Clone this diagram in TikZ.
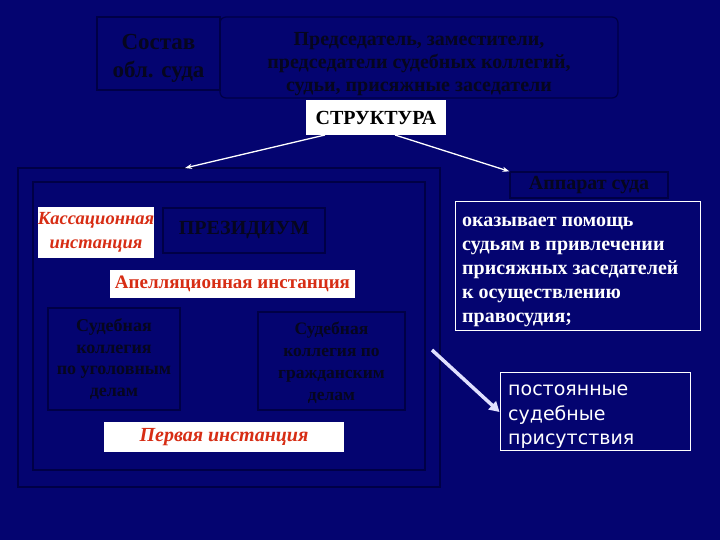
\documentclass[tikz,border=0pt]{standalone}
\usepackage{fontspec}
\setmainfont{Liberation Serif}
\newfontfamily\vsans{DejaVu Sans}
\usetikzlibrary{arrows.meta}
\definecolor{bgnavy}{RGB}{4,4,112}
\definecolor{darkline}{RGB}{0,0,70}
\definecolor{darktext}{RGB}{6,6,30}
\definecolor{redtext}{RGB}{215,45,20}
\tikzset{
  darkbox/.style={draw=darkline, line width=1.2pt, text=darktext, align=center, inner sep=0pt, font=\bfseries},
  darktxt/.style={text=darktext, align=center, inner sep=0pt},
  whitebox/.style={fill=white, draw=none, align=center, inner sep=0pt},
  framebox/.style={draw=darkline, line width=1.5pt, inner sep=0pt},
  wframe/.style={draw=white, line width=1pt, text=white, inner sep=0pt},
  arr/.style={draw=white, line width=1.3pt, -{Stealth[length=7pt,width=5pt]}},
  bigarr/.style={draw=white!88!blue, line width=3.5pt, -{Triangle[length=10pt,width=11pt]}}
}
\begin{document}
\begin{tikzpicture}[x=1pt,y=-1pt]
\fill[bgnavy] (0,0) rectangle (720,540);
\useasboundingbox (0,0) rectangle (720,540);

% top row
\node[darkbox, minimum width=123, minimum height=73] (sostav) at (158.5,53.5) {};
\node[darktxt, font=\bfseries\fontsize{23}{28}\selectfont] (sostavtext) at (158.5,58) {Состав\\обл. суда};
\node[darkbox, rounded corners=6pt, minimum width=398, minimum height=81] (pred) at (419,57.5) {};
\node[darktxt, font=\bfseries\fontsize{20}{23}\selectfont] (predtext) at (419,64) {Председатель, заместители,\\председатели судебных коллегий,\\судьи, присяжные заседатели};

\node[whitebox, minimum width=140, minimum height=35, font=\bfseries\fontsize{20}{22}\selectfont] (struct) at (376,117.5) {СТРУКТУРА};

% frames
\node[framebox, minimum width=422, minimum height=319] (outer) at (229,327.5) {};
\node[framebox, minimum width=392, minimum height=288] (inner) at (229,326) {};

\coordinate (s1) at (325,135);
\coordinate (f1) at (185,168);
\coordinate (s2) at (395,135);
\draw[arr] (s1) -- (f1);

% right column
\node[darkbox, minimum width=158, minimum height=26, font=\bfseries\fontsize{20}{22}\selectfont] (apparat) at (589,185) {Аппарат суда};
\draw[arr] (s2) -- (apparat.north west);

\node[wframe, minimum width=245, minimum height=128] (help) at (577.5,266) {};
\node[text=white, align=left, anchor=north west, inner sep=0pt, font=\bfseries\fontsize{20}{24}\selectfont] (helptext) at (462,217) {оказывает помощь\\судьям в привлечении\\присяжных заседателей\\к осуществлению\\правосудия;};

\node[wframe, minimum width=190, minimum height=78] (post) at (595,411) {};
\node[text=white, align=left, anchor=north west, inner sep=0pt, font=\vsans\fontsize{19}{24.5}\selectfont] (posttext) at (508,385) {постоянные\\судебные\\присутствия};
\coordinate (b1) at (432,350);
\draw[bigarr] (b1) -- (post.west |- 0,412);

% inside frames
\node[whitebox, minimum width=108, minimum height=51, text=redtext, font=\bfseries\itshape\fontsize{18.5}{24}\selectfont] (kass) at (96,232.5) {Кассационная\\инстанция};
\node[darkbox, minimum width=162, minimum height=45, font=\bfseries\fontsize{20}{22}\selectfont] (prez) at (244,230.5) {ПРЕЗИДИУМ};
\node[whitebox, minimum width=245, minimum height=28, text=redtext, font=\bfseries\fontsize{19}{20}\selectfont] (apel) at (232.5,284) {Апелляционная инстанция};
\node[darkbox, minimum width=132, minimum height=102, font=\bfseries\fontsize{18}{21.5}\selectfont] (ugol) at (114,359) {Судебная\\коллегия\\по уголовным\\делам};
\node[darkbox, minimum width=147, minimum height=98] (grazh) at (331.5,361) {};
\node[darktxt, font=\bfseries\fontsize{17.5}{22}\selectfont] (grazhtext) at (331.5,363) {Судебная\\коллегия по\\гражданским\\делам};
\node[whitebox, minimum width=240, minimum height=30, text=redtext, font=\bfseries\itshape\fontsize{20}{22}\selectfont] (perv) at (224,437) {Первая инстанция};
\end{tikzpicture}
\end{document}
